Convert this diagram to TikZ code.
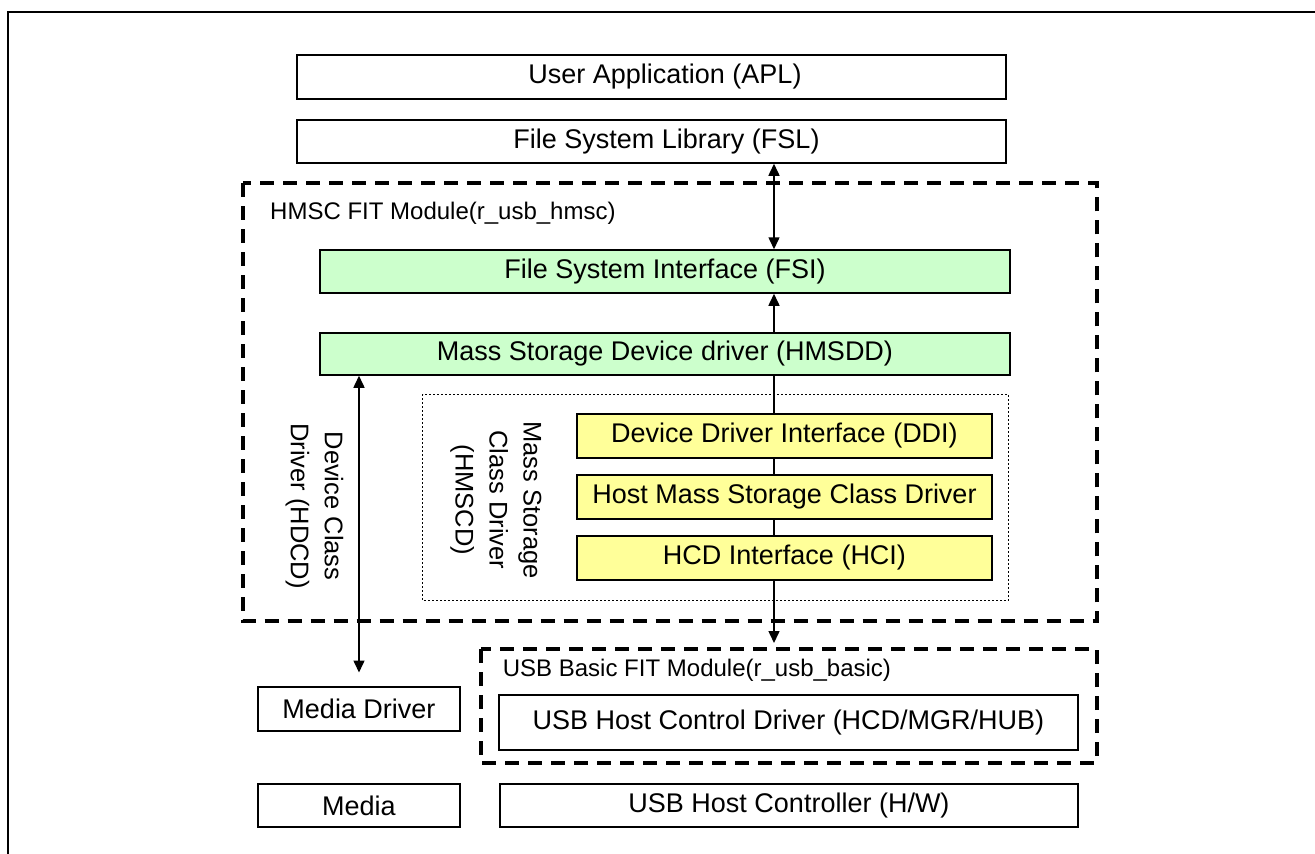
\documentclass[tikz,border=0pt]{standalone}
\usepackage{fontspec}
\setmainfont{Liberation Sans}
\usetikzlibrary{arrows.meta,backgrounds}
\definecolor{lgreen}{HTML}{CCFFCC}
\definecolor{lyellow}{HTML}{FFFF99}
\begin{document}
\begin{tikzpicture}[x=1pt,y=-1pt,
 box/.style={draw=black, line width=1.5pt, fill=white, rectangle, inner sep=0pt, font=\fontsize{27}{32}\selectfont},
 gbox/.style={box, fill=lgreen},
 ybox/.style={box, fill=lyellow},
 modframe/.style={line width=4pt, dash pattern=on 14pt off 9pt},
 dotframe/.style={line width=1pt, dash pattern=on 2pt off 2pt},
 conn/.style={line width=1.5pt, {Triangle[length=12pt,width=11pt]}-{Triangle[length=12pt,width=11pt]}},
 lbl/.style={inner sep=0pt, font=\fontsize{24}{28}\selectfont, anchor=base west},
 vlbl/.style={inner sep=0pt, rotate=-90, align=center, font=\fontsize{25.5}{34}\selectfont}]
\useasboundingbox (0,0) rectangle (1315,854);
% outer frame
\draw[line width=2.4pt] (7.7,854) -- (7.7,12) -- (1315,12);

% module frames
\draw[modframe] (242.7,183.3) rectangle (1096.7,621.3);
\draw[modframe] (480.7,649.3) rectangle (1096.7,762.7);
\draw[dotframe] (422.7,394.3) rectangle (1008.3,600.7);

\node[lbl] (hmsclbl) at (270,219) {HMSC FIT Module(r\_usb\_hmsc)};
\node[lbl] (usblbl) at (502.7,676.7) {USB Basic FIT Module(r\_usb\_basic)};

% boxes
\node[box, minimum width=709pt, minimum height=44pt] (apl) at (651.5,77) {\hspace*{27pt}User Application (APL)};
\node[box, minimum width=709pt, minimum height=43pt] (fsl) at (651.5,141.5) {\hspace*{30pt}File System Library (FSL)};
\node[gbox, minimum width=690pt, minimum height=43pt] (fsi) at (665,271.5) {File System Interface (FSI)};
\node[gbox, minimum width=690pt, minimum height=42pt] (msdd) at (665,354) {Mass Storage Device driver (HMSDD)};

\coordinate (ax) at (774,0);
\coordinate (bt) at (774,643);
\coordinate (lt) at (359,672.5);

\begin{scope}[on background layer]
\draw[conn] (fsi.south -| ax) -- (bt);
\end{scope}

\node[ybox, minimum width=415pt, minimum height=44pt] (ddi) at (784.5,436) {Device Driver Interface (DDI)};
\node[ybox, minimum width=415pt, minimum height=44pt] (hmscd) at (784.5,497) {Host Mass Storage Class Driver};
\node[ybox, minimum width=415pt, minimum height=44pt] (hci) at (784.5,558) {HCD Interface (HCI)};

\node[box, minimum width=202pt, minimum height=44pt] (mdrv) at (359,709) {Media Driver};
\node[box, minimum width=202pt, minimum height=43pt] (media) at (359,805.5) {Media};
\node[box, minimum width=579pt, minimum height=55pt] (hcd) at (788.5,722.5) {USB Host Control Driver (HCD/MGR/HUB)};
\node[box, minimum width=578pt, minimum height=43pt] (hc) at (789,805.5) {USB Host Controller (H/W)};

% rotated labels
\node[vlbl] (hdcd) at (314.5,506) {Device Class\\Driver (HDCD)};
\node[vlbl] (hmscdlbl) at (496,500) {Mass Storage\\Class Driver\\(HMSCD)};

% connectors
\draw[conn] (fsl.south -| ax) -- (fsi.north -| ax);
\draw[conn] (msdd.south -| mdrv.north) -- (lt);
\end{tikzpicture}
\end{document}
